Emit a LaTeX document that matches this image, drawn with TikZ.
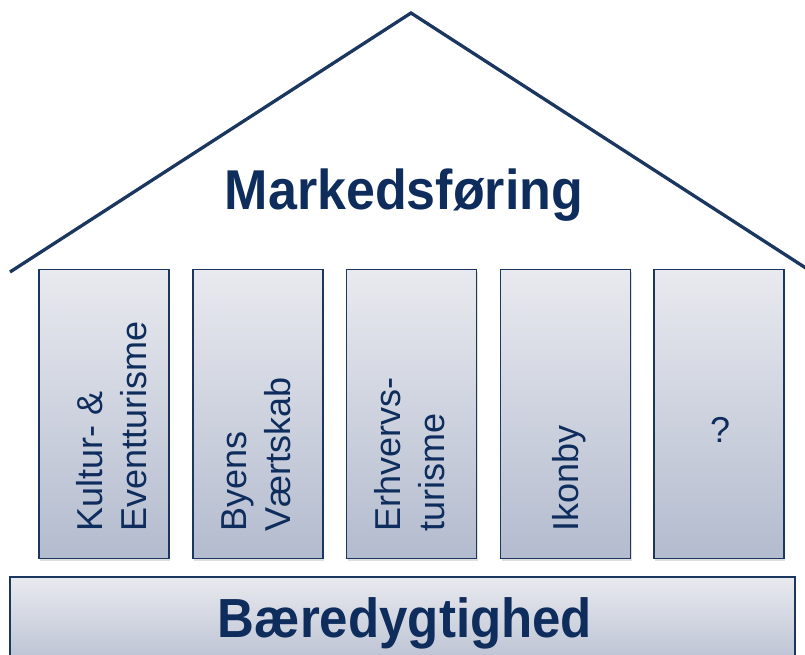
\documentclass[tikz,border=0pt]{standalone}
\usepackage{fontspec}
\setmainfont{Liberation Sans}
\usepackage{tikz}
\usetikzlibrary{positioning,calc,shadows}

\definecolor{navy}{HTML}{0E2C5C}
\definecolor{roofline}{HTML}{1B365F}
\definecolor{pillartop}{HTML}{E9EAEF}
\definecolor{pillarbot}{HTML}{B3BBCE}

\tikzset{
  pillar/.style={rectangle, draw=roofline, line width=1.2pt, top color=pillartop, bottom color=pillarbot,
    minimum width=130pt, minimum height=289pt, inner sep=0pt,
    drop shadow={shadow xshift=1pt, shadow yshift=-2pt, opacity=0.25}},
  pillartext/.style={rotate=90, anchor=west, align=left, inner sep=0pt, text=navy,
    font=\fontsize{36}{44}\selectfont},
  bigtext/.style={anchor=base, inner sep=0pt, text=navy, font=\fontsize{52}{60}\selectfont\bfseries}
}

\begin{document}
\begin{tikzpicture}[x=1pt, y=-1pt]
\useasboundingbox (0,0) rectangle (805,655);

% roof
\coordinate (RL) at (10,272);
\coordinate (RT) at (411,13);
\coordinate (RR) at (812,272);
\draw[roofline, line width=3.3pt] (RL) -- (RT) -- (RR);
\node[bigtext, yscale=1.08] (roof) at (404,209) {Markedsføring};

% pillars
\node[pillar] (P1) at (104,414) {};
\node[pillar] (P2) at (258,414) {};
\node[pillar] (P3) at (411.5,414) {};
\node[pillar] (P4) at (565.5,414) {};
\node[pillar] (P5) at (719,414) {};

\node[pillartext] (T1) at (112,532) {Kultur- \&\\Eventturisme};
\node[pillartext] (T2) at (256,532) {Byens\\Værtskab};
\node[pillartext] (T3) at (410,532) {Erhvervs-\\turisme};
\node[pillartext] (T4) at (569,532) {Ikonby};
\node[pillartext, rotate=-90, anchor=center] (T5) at (720,430) {?};

% base
\node[rectangle, draw=roofline, line width=1.2pt, top color=pillartop, bottom color=pillarbot,
  minimum width=785pt, minimum height=100pt, inner sep=0pt] (base) at (402.5,627) {};
\node[bigtext, yscale=1.08, font=\fontsize{51}{60}\selectfont\bfseries] (found) at (405,637) {Bæredygtighed};

\end{tikzpicture}
\end{document}
